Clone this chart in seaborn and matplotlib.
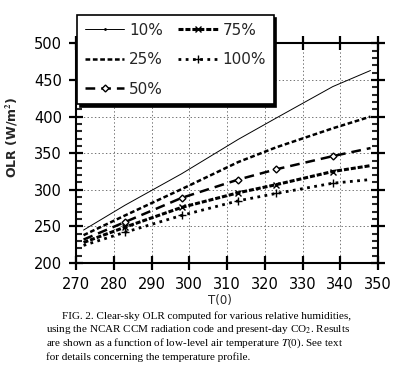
import matplotlib
matplotlib.use('Agg')
import matplotlib.pyplot as plt
from matplotlib.lines import Line2D
from matplotlib.ticker import MultipleLocator
import seaborn as sns

# values (OLR in W/m2 vs T(0) in K)
temps = [272, 283, 298, 313, 323, 338, 348]
olr_10 = [245, 279, 322, 369, 398, 441, 463]
olr_25 = [238, 265, 301, 338, 358, 384, 400]
olr_50 = [232, 256, 289, 314, 328, 346, 357]
olr_75 = [228, 249, 276, 296, 307, 325, 333]
olr_100 = [224, 242, 265, 285, 295, 309, 314]
labels = ['10%', '25%', '50%', '75%', '100%']

x_ticks = [270, 280, 290, 300, 310, 320, 330, 340, 350]
y_ticks = [200, 250, 300, 350, 400, 450, 500]

caption = [
    "FIG. 2. Clear-sky OLR computed for various relative humidities,",
    "using the NCAR CCM radiation code and present-day CO$_2$. Results",
    "are shown as a function of low-level air temperature $T$(0). See text",
    "for details concerning the temperature profile.",
]

sns.set_style('white')
plt.rcParams['font.family'] = ['DejaVu Sans']
plt.rcParams['lines.scale_dashes'] = False
plt.rcParams['mathtext.fontset'] = 'stix'

# line look per series: linestyle, width, marker, marker size, marker face
STYLES = [
    ('-', 0.7, '.', 2.0, 'k'),
    ((0, (3.4, 1.9)), 1.8, '', 0, 'k'),
    ((0, (7.0, 4.3)), 1.8, 'D', 3.5, 'white'),
    ((0, (3.6, 1.4)), 2.2, 'x', 4.5, 'k'),
    ((0, (2.0, 3.2)), 2.0, '+', 5.5, 'k'),
]

fig = plt.figure(figsize=(3.99, 3.69), dpi=100)
ax = fig.add_axes([0.1905, 0.2873, 0.757, 0.595])

series = [olr_10, olr_25, olr_50, olr_75, olr_100]
handles = []
for vals, lab, (ls, lw, mk, ms, mfc) in zip(series, labels, STYLES):
    # the 10% dots only show in the legend; markers sit on the inner points
    line_mk = None if lab in ('10%', '25%') else mk
    sns.lineplot(x=temps, y=vals, ax=ax, color='k', linestyle=ls, linewidth=lw,
                 marker=line_mk, markersize=ms, markerfacecolor=mfc,
                 markeredgecolor='k', markeredgewidth=1.0,
                 markevery=slice(1, 6), legend=False)
    handles.append(Line2D([], [], color='k', linestyle=ls, linewidth=lw,
                          marker=mk if mk else None, markersize=ms,
                          markerfacecolor=mfc, markeredgecolor='k',
                          markeredgewidth=1.0))

ax.set_xlim(270, 350)
ax.set_ylim(200, 500)
ax.set_xticks(x_ticks)
ax.set_yticks(y_ticks)
ax.yaxis.set_minor_locator(MultipleLocator(10))

ax.grid(True, which='major', linestyle=':', color='0.45', linewidth=0.7)
ax.set_axisbelow(True)
for sp in ax.spines.values():
    sp.set_linewidth(1.5)
    sp.set_color('k')

ax.tick_params(axis='both', which='major', direction='inout', length=10, width=1.6,
               top=True, right=True, bottom=True, left=True, labelsize=10.5, colors='k')
ax.tick_params(axis='y', which='major', pad=5)
ax.tick_params(axis='x', which='major', pad=5)
ax.tick_params(axis='y', which='minor', direction='in', length=4.5, width=1.5,
               left=True, right=True)

ax.set_ylabel('OLR (W/m$^\\mathbf{2}$)', fontsize=9, fontweight='bold')
ax.yaxis.set_label_coords(-0.185, 0.574)
ax.set_xlabel('T(0)', fontsize=8.5)
ax.xaxis.set_label_coords(0.477, -0.142)

leg = ax.legend(handles, labels, ncol=2, loc='upper left',
                bbox_to_anchor=(77 / 399, 1 - 15 / 369), bbox_transform=fig.transFigure,
                frameon=True, fancybox=False, shadow={'color': 'k', 'alpha': 1},
                edgecolor='k', handlelength=2.6, handletextpad=0.3,
                columnspacing=1.0, labelspacing=0.95, borderpad=0.5,
                fontsize=11, borderaxespad=0)
leg.get_frame().set_linewidth(1.2)
leg.get_frame().set_alpha(1)

cap_y = [316, 330, 343, 357]
cap_x = [62, 46, 46, 46]
for line, cx, cy in zip(caption, cap_x, cap_y):
    fig.text(cx / 399, 1 - cy / 369, line, fontsize=8, va='center', ha='left',
             family='Liberation Serif', color='k')

plt.savefig('out.png', dpi=100, facecolor='white')
plt.close()
